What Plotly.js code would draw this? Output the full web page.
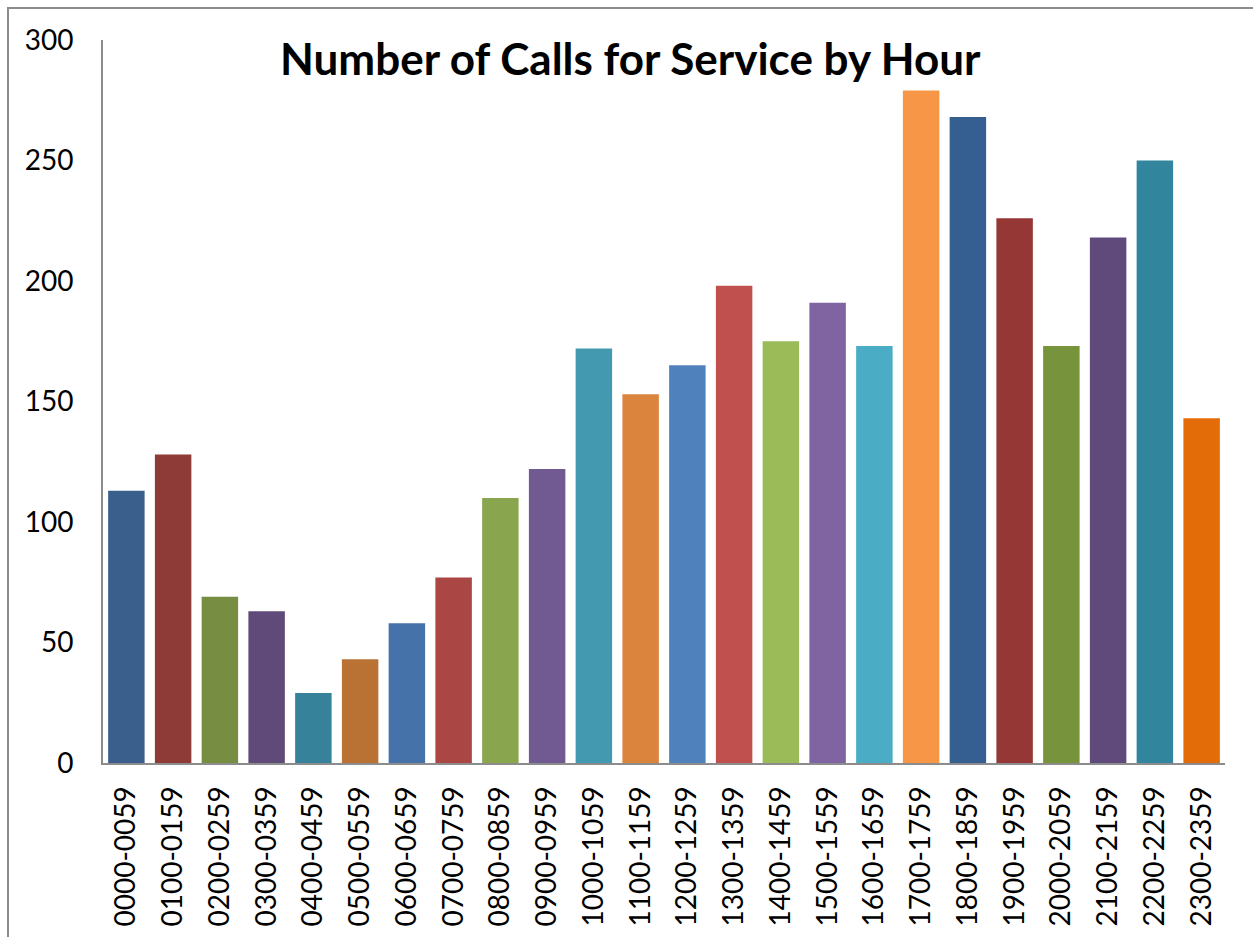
<!DOCTYPE html>
<html>
<head>
<meta charset="utf-8">
<script src="https://cdn.plot.ly/plotly-3.0.1.min.js"></script>
<style>
html,body{margin:0;padding:0;background:#fff;overflow:hidden;}
#frame{position:absolute;left:7px;top:7px;width:1300px;height:1000px;border-left:2px solid #8c8c8c;border-top:2px solid #8c8c8c;}
#chart{position:absolute;left:0;top:0;width:1253px;height:937px;}
</style>
</head>
<body>
<div id="frame"></div>
<div id="chart"></div>
<script>
const hours = ["0000-0059","0100-0159","0200-0259","0300-0359","0400-0459","0500-0559",
  "0600-0659","0700-0759","0800-0859","0900-0959","1000-1059","1100-1159",
  "1200-1259","1300-1359","1400-1459","1500-1559","1600-1659","1700-1759",
  "1800-1859","1900-1959","2000-2059","2100-2159","2200-2259","2300-2359"];
const calls = [113,128,69,63,29,43,58,77,110,122,172,153,165,198,175,191,173,279,268,226,173,218,250,143];
const barColors = ["#3B5F8D","#8E3A37","#768D42","#5F4A79","#36829A","#BA7134",
  "#4472A9","#AA4644","#89A64F","#715991","#4399B0","#DB843E",
  "#4F81BD","#C0504D","#9BBB59","#8064A2","#4BACC6","#F79646",
  "#365F91","#953735","#77933C","#604A7B","#31859C","#E36C09"];
const yTicks = [0,50,100,150,200,250,300];

const trace = {
  type: "bar",
  x: hours,
  y: calls,
  marker: {color: barColors, line: {width: 0}},
  hoverinfo: "x+y"
};
const layout = {
  width: 1253, height: 937,
  margin: {l: 103, r: 28, t: 40, b: 174},
  paper_bgcolor: "rgba(0,0,0,0)",
  plot_bgcolor: "rgba(0,0,0,0)",
  bargap: 0.22,
  showlegend: false,
  font: {family: "Lato, 'Open Sans', sans-serif", color: "#000", size: 27},
  title: {
    text: "<b>Number of Calls for Service by Hour</b>",
    font: {family: "Lato, 'Open Sans', sans-serif", size: 44, color: "#000"},
    x: 0.503, xanchor: "center", y: 0.936, yanchor: "middle", yref: "container"
  },
  xaxis: {
    type: "category",
    tickangle: -90,
    showline: true, linecolor: "#8c8c8c", linewidth: 2,
    showgrid: false, zeroline: false,
    ticks: "", ticklabelstandoff: 10,
    tickfont: {size: 28, color: "#000"}
  },
  yaxis: {
    range: [0, 300],
    tickvals: yTicks,
    ticktext: yTicks.map(String),
    showline: true, linecolor: "#8c8c8c", linewidth: 2,
    showgrid: false, zeroline: false,
    ticks: "", ticklabelstandoff: 22,
    tickfont: {size: 28, color: "#000"}
  }
};
Plotly.newPlot("chart", [trace], layout, {displayModeBar: false, staticPlot: true});
</script>
</body>
</html>
